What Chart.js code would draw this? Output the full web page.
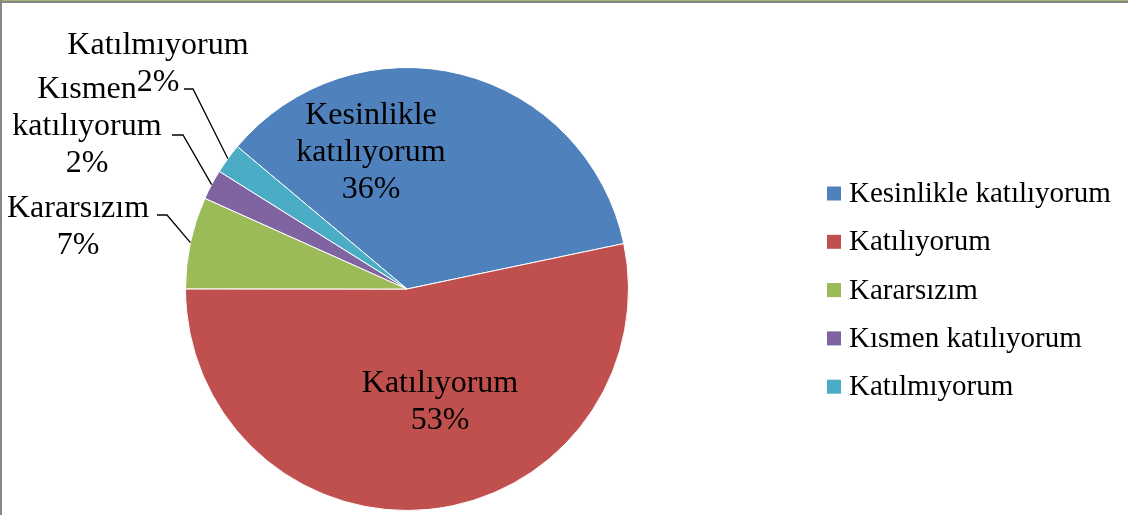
<!DOCTYPE html>
<html>
<head>
<meta charset="utf-8">
<script src="https://cdn.jsdelivr.net/npm/chart.js@4/dist/chart.umd.min.js"></script>
<style>
html,body{margin:0;padding:0;background:#fff;}
#wrap{position:relative;width:1128px;height:515px;overflow:hidden;}
#c{position:absolute;left:0;top:0;}
.bt{position:absolute;left:0;top:0;width:1128px;height:1px;background:#9fb872;}
.bt2{position:absolute;left:0;top:1px;width:1128px;height:2px;background:#878787;}
.bl{position:absolute;left:0;top:0;width:2px;height:515px;background:#878787;}
</style>
</head>
<body>
<div id="wrap">
<canvas id="c" width="1128" height="515"></canvas>
<div class="bt"></div><div class="bt2"></div><div class="bl"></div>
</div>
<script>
// ---- data ----
const categories = ["Kesinlikle katılıyorum", "Katılıyorum", "Kararsızım", "Kısmen katılıyorum", "Katılmıyorum"];
const shares = [35.6, 53.3, 6.7, 2.2, 2.2];            // percent of respondents
const labelLines = [["Kesinlikle", "katılıyorum"], ["Katılıyorum"], ["Kararsızım"], ["Kısmen", "katılıyorum"], ["Katılmıyorum"]];
const colors = ["#4F81BD", "#C0504D", "#9BBB59", "#8064A2", "#4BACC6"];

// ---- layout of data labels (offsets from pie centre, px) ----
const FONT = '"Liberation Serif", "Times New Roman", serif';
const LABEL_SIZE = 32, LABEL_LH = 37;
const labelLayout = [
  {dx: -36, dy: -136},
  {dx: 33, dy: 113},
  {dx: -329, dy: -62, leader: [-250, -74, 10]},
  {dx: -320, dy: -162, leader: [-235, -154, 11]},
  {dx: -249, dy: -225, leader: [-223, -200, 9]}
];

const labelPlugin = {
  id: 'sliceLabels',
  afterDatasetsDraw(chart) {
    const ctx = chart.ctx;
    const meta = chart.getDatasetMeta(0);
    const vals = chart.data.datasets[0].data;
    const total = vals.reduce((a, b) => a + b, 0);
    ctx.save();
    ctx.font = LABEL_SIZE + 'px ' + FONT;
    ctx.fillStyle = '#000';
    ctx.strokeStyle = '#000';
    ctx.lineWidth = 1.3;
    ctx.textAlign = 'center';
    ctx.textBaseline = 'middle';
    meta.data.forEach((arc, i) => {
      const p = arc.getProps(['x', 'y', 'startAngle', 'endAngle', 'outerRadius'], true);
      const cfg = labelLayout[i];
      const lines = labelLines[i].concat([Math.round(vals[i] / total * 100) + '%']);
      const n = lines.length;
      const bx = p.x + cfg.dx, by = p.y + cfg.dy;
      lines.forEach((t, k) => ctx.fillText(t, bx, by + (k - (n - 1) / 2) * LABEL_LH));
      if (cfg.leader) {
        const mid = (p.startAngle + p.endAngle) / 2;
        const ex = p.x + Math.cos(mid) * p.outerRadius;
        const ey = p.y + Math.sin(mid) * p.outerRadius;
        const sx = p.x + cfg.leader[0], sy = p.y + cfg.leader[1];
        ctx.beginPath();
        ctx.moveTo(sx, sy);
        ctx.lineTo(sx + cfg.leader[2], sy);
        ctx.lineTo(ex, ey);
        ctx.stroke();
      }
    });
    ctx.restore();
  }
};

const LEGEND_SIZE = 29;
const legendPlugin = {
  id: 'sideLegend',
  afterDraw(chart) {
    const ctx = chart.ctx;
    ctx.save();
    ctx.font = LEGEND_SIZE + 'px ' + FONT;
    ctx.textAlign = 'left';
    ctx.textBaseline = 'middle';
    const x0 = 827, y0 = 193.5, step = 48.3, box = 14;
    chart.data.labels.forEach((lab, i) => {
      const cy = y0 + i * step;
      ctx.fillStyle = chart.data.datasets[0].backgroundColor[i];
      ctx.fillRect(x0, cy - box / 2, box, box);
      ctx.fillStyle = '#000';
      ctx.fillText(lab, x0 + 22, cy + 1);
    });
    ctx.restore();
  }
};

new Chart(document.getElementById('c'), {
  type: 'pie',
  data: {
    labels: categories,
    datasets: [{
      data: shares,
      backgroundColor: colors,
      borderColor: '#ffffff',
      borderWidth: 1
    }]
  },
  options: {
    responsive: false,
    animation: false,
    rotation: -50,
    layout: {padding: {left: 185, top: 67, right: 499, bottom: 4}},
    plugins: {
      legend: {display: false},
      tooltip: {enabled: false}
    }
  },
  plugins: [labelPlugin, legendPlugin]
});
</script>
</body>
</html>
